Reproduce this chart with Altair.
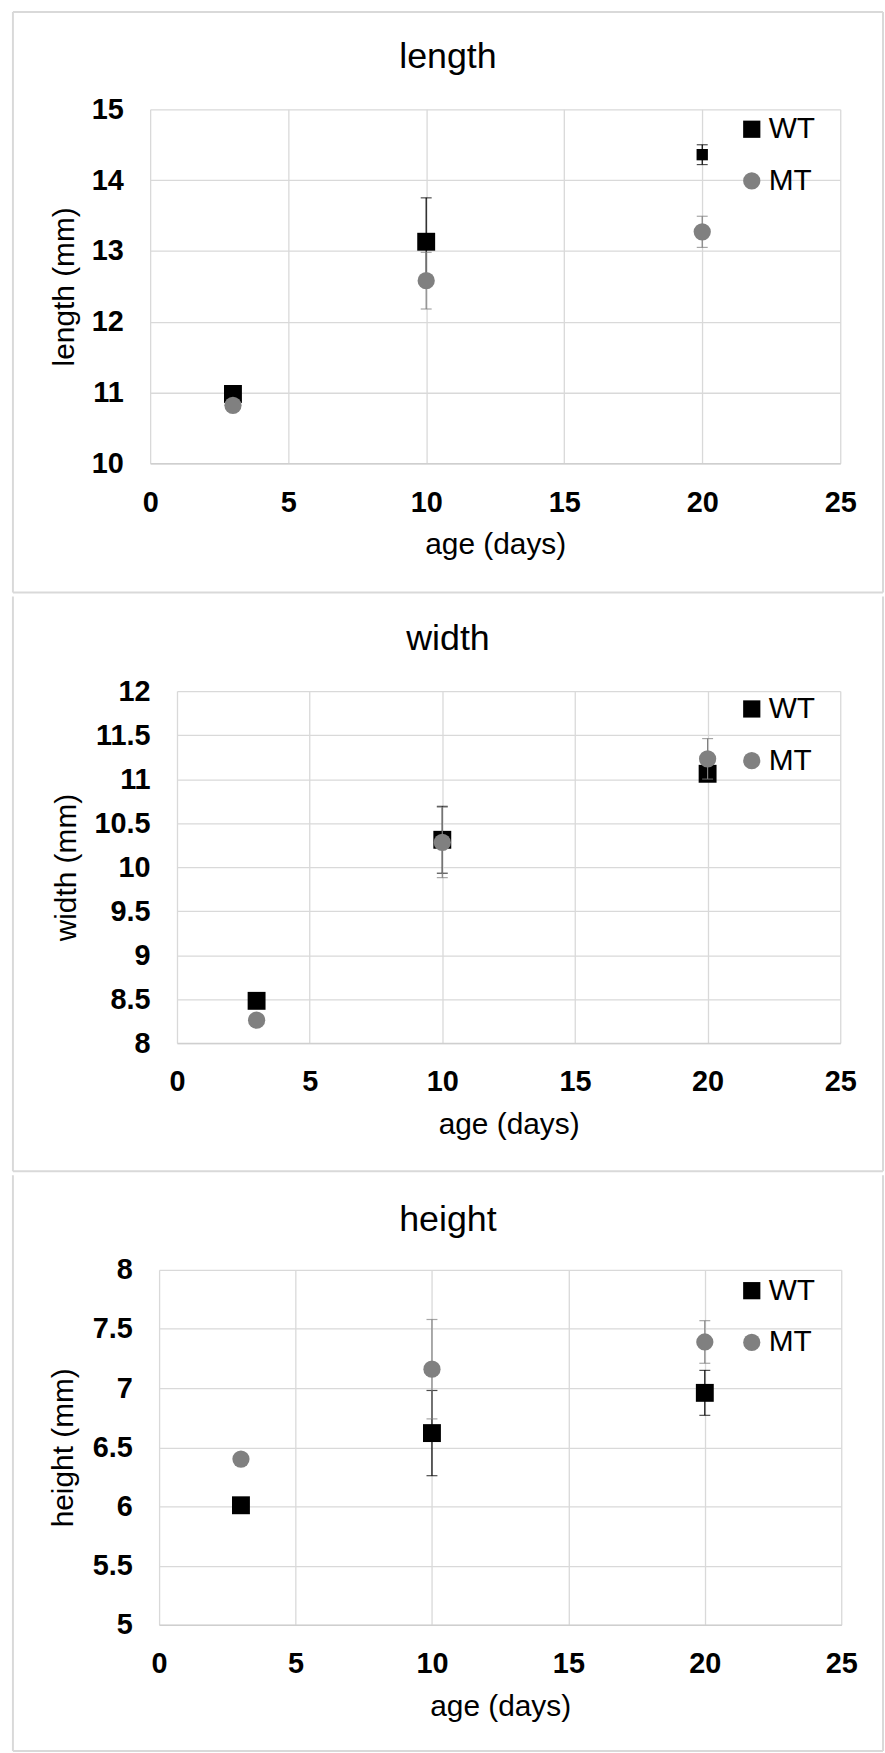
import altair as alt
import pandas as pd

# ---------------- data ----------------
age = [3, 10, 20]
series = ["WT", "MT"]
series_colors = ["#000000", "#808080"]
series_shapes = ["square", "circle"]

panel_titles = ["length", "width", "height"]
y_titles = ["length (mm)", "width (mm)", "height (mm)"]
x_title = "age (days)"

x_ticks = [0, 5, 10, 15, 20, 25]
y_ticks_length = [10, 11, 12, 13, 14, 15]
y_ticks_width = [8, 8.5, 9, 9.5, 10, 10.5, 11, 11.5, 12]
y_ticks_height = [5, 5.5, 6, 6.5, 7, 7.5, 8]

length_wt = [10.98, 13.13, 14.36]
length_wt_err = [0.0, 0.62, 0.14]
length_mt = [10.82, 12.58, 13.27]
length_mt_err = [0.0, 0.40, 0.22]

width_wt = [8.48, 10.31, 11.06]
width_wt_err = [0.0, 0.38, 0.0]
width_mt = [8.26, 10.28, 11.23]
width_mt_err = [0.0, 0.40, 0.23]

height_wt = [6.01, 6.62, 6.96]
height_wt_err = [0.0, 0.36, 0.19]
height_mt = [6.40, 7.16, 7.39]
height_mt_err = [0.0, 0.42, 0.18]

FONT = "Liberation Sans"
BORDER = "#d9d9d9"

# page geometry of each panel: plot origin, plot size, border lines
LEFT_EDGE, RIGHT_EDGE = 5, 880
geoms = [
    dict(ox=143, oy=104, w=694, h=356, top=6, bottom=590, first=True, ytx=-77, ty=62),
    dict(ox=170, oy=687, w=667, h=354, top=592, bottom=1170, first=False, ytx=-102, ty=646),
    dict(ox=152, oy=1267, w=686, h=357, top=1172, bottom=1751, first=False, ytx=-87, ty=1228),
]
LEGEND_SYMBOL_LEFT = 733
LEGEND_ROW1_CENTER = [124, 705, 1288]


def make_df(wt, wt_err, mt, mt_err):
    rows = []
    for s, vals, errs in (("WT", wt, wt_err), ("MT", mt, mt_err)):
        for a, v, e in zip(age, vals, errs):
            rows.append(dict(age=a, value=v, err=e, lo=v - e, hi=v + e, series=s))
    return pd.DataFrame(rows)


def panel(i, title, ytitle, yticks, wt, wt_err, mt, mt_err):
    g = geoms[i]
    df = make_df(wt, wt_err, mt, mt_err)
    one = pd.DataFrame({"t": [title]})

    xaxis = alt.Axis(values=x_ticks, title=x_title, titleY=91, titleBaseline="alphabetic",
                     labelPadding=25, ticks=False, tickSize=0, domain=True,
                     domainColor="#cfcfcf", domainWidth=1.5, labelFlush=False,
                     grid=True, format="~g")
    yaxis = alt.Axis(values=yticks, title=ytitle, titleX=g["ytx"], titleBaseline="alphabetic",
                     labelPadding=27, ticks=False, tickSize=0, domain=False, grid=True,
                     format="~g", labelFlush=False)
    xs = alt.Scale(domain=[0, 25], nice=False, zero=False)
    ys = alt.Scale(domain=[yticks[0], yticks[-1]], nice=False, zero=False)

    def X():
        return alt.X("age:Q", scale=xs, axis=xaxis)

    def Y(field):
        return alt.Y(f"{field}:Q", scale=ys, axis=yaxis)

    leg = alt.Legend(orient="none", legendX=LEGEND_SYMBOL_LEFT - g["ox"],
                     legendY=LEGEND_ROW1_CENTER[i] - 15 - g["oy"], title=None)
    color = alt.Color("series:N", scale=alt.Scale(domain=series, range=series_colors), legend=leg)
    shape = alt.Shape("series:N", scale=alt.Scale(domain=series, range=series_shapes), legend=leg)

    layers = []
    # panel border
    ox, oy = g["ox"], g["oy"]
    x1, x2 = LEFT_EDGE - ox, RIGHT_EDGE - ox
    y1, y2 = g["top"] - oy, g["bottom"] - oy
    bchart = alt.Chart(one)
    layers.append(bchart.mark_rule(color=BORDER, strokeWidth=2).encode(
        x=alt.value(x1), x2=alt.value(x1), y=alt.value(y1), y2=alt.value(y2)))
    layers.append(bchart.mark_rule(color=BORDER, strokeWidth=2).encode(
        x=alt.value(x2), x2=alt.value(x2), y=alt.value(y1), y2=alt.value(y2)))
    layers.append(bchart.mark_rule(color=BORDER, strokeWidth=2).encode(
        x=alt.value(x1), x2=alt.value(x2), y=alt.value(y2), y2=alt.value(y2)))
    if g["first"]:
        layers.append(bchart.mark_rule(color=BORDER, strokeWidth=2).encode(
            x=alt.value(x1), x2=alt.value(x2), y=alt.value(y1), y2=alt.value(y1)))
    # panel title
    layers.append(alt.Chart(one).mark_text(font=FONT, fontSize=36, color="#000000",
                                           align="center", baseline="alphabetic").encode(
        text="t:N", x=alt.value((LEFT_EDGE + RIGHT_EDGE) / 2 - ox), y=alt.value(g["ty"] - oy)))

    base = alt.Chart(df)
    for s, c in zip(series, series_colors):
        eb = base.transform_filter(f"datum.series == '{s}' && datum.err > 0")
        layers.append(eb.mark_rule(color=c, strokeWidth=1.2).encode(x=X(), y=Y("lo"), y2="hi:Q"))
        layers.append(eb.mark_tick(color=c, orient="horizontal", size=11, thickness=1.2).encode(x=X(), y=Y("lo")))
        layers.append(eb.mark_tick(color=c, orient="horizontal", size=11, thickness=1.2).encode(x=X(), y=Y("hi")))
        pts = base.transform_filter(f"datum.series == '{s}'")
        if s == "WT":
            if title == "length":
                size = alt.condition("datum.age == 20", alt.value(130), alt.value(324))
                m = pts.mark_point(filled=True, opacity=1, strokeWidth=0)
                layers.append(m.encode(x=X(), y=Y("value"), color=color, shape=shape, size=size))
            else:
                m = pts.mark_point(filled=True, opacity=1, strokeWidth=0, size=324)
                layers.append(m.encode(x=X(), y=Y("value"), color=color, shape=shape))
        else:
            m = pts.mark_point(filled=True, opacity=1, strokeWidth=0, size=300)
            layers.append(m.encode(x=X(), y=Y("value"), color=color, shape=shape))

    return alt.layer(*layers).properties(width=g["w"], height=g["h"])


def spacer():
    return alt.Chart(pd.DataFrame({"t": [""]})).mark_point(opacity=0).encode(
        x=alt.value(0), y=alt.value(0)).properties(width=1, height=1)


p1 = panel(0, panel_titles[0], y_titles[0], y_ticks_length, length_wt, length_wt_err, length_mt, length_mt_err)
p2 = panel(1, panel_titles[1], y_titles[1], y_ticks_width, width_wt, width_wt_err, width_mt, width_mt_err)
p3 = panel(2, panel_titles[2], y_titles[2], y_ticks_height, height_wt, height_wt_err, height_mt, height_mt_err)

rows = []
for p in (p1, p2, p3):
    rows.append(alt.hconcat(spacer(), p, spacing=0).resolve_scale(
        color="independent", shape="independent").resolve_legend(color="independent", shape="independent"))

chart = alt.vconcat(*rows, spacing=0, padding={"left": 3, "top": 5, "right": 0, "bottom": 0})
chart = chart.resolve_scale(color="independent", shape="independent")
chart = chart.resolve_legend(color="independent", shape="independent")

chart = chart.configure(font=FONT, background="#ffffff").configure_view(stroke="transparent").configure_axis(
    labelFont=FONT, labelFontSize=29, labelFontWeight="bold", labelColor="#000000",
    titleFont=FONT, titleFontSize=30, titleFontWeight="normal", titleColor="#000000",
    gridColor="#d9d9d9", gridWidth=1.3,
).configure_legend(
    labelFont=FONT, labelFontSize=30, labelColor="#000000", symbolSize=300,
    symbolStrokeWidth=0, rowPadding=22, labelOffset=2, padding=0, symbolOffset=0,
)

chart.save("out.html", embed_options={"renderer": "svg", "actions": False})
